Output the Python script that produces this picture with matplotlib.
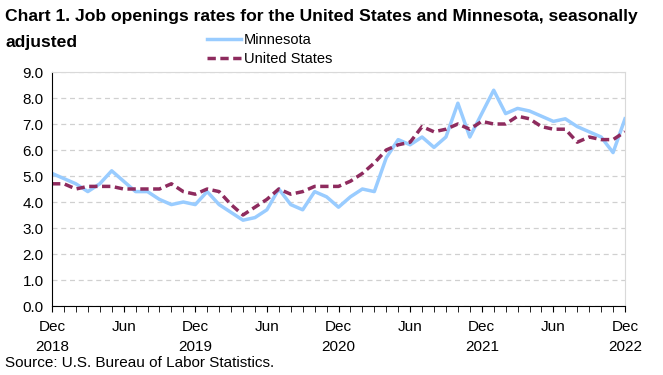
import matplotlib.pyplot as plt
import numpy as np

plt.rcParams['font.family'] = ['Liberation Sans Narrow', 'Liberation Sans', 'DejaVu Sans']

# monthly, Dec 2018 .. Dec 2022
minnesota = [5.1, 4.9, 4.7, 4.4, 4.7, 5.2, 4.8, 4.4, 4.4, 4.1, 3.9, 4.0, 3.9,
             4.4, 3.9, 3.6, 3.3, 3.4, 3.7, 4.5, 3.9, 3.7, 4.4, 4.2, 3.8,
             4.2, 4.5, 4.4, 5.7, 6.4, 6.2, 6.5, 6.1, 6.5, 7.8, 6.5, 7.4,
             8.3, 7.4, 7.6, 7.5, 7.3, 7.1, 7.2, 6.9, 6.7, 6.5, 5.9, 7.2]
united_states = [4.7, 4.7, 4.5, 4.6, 4.6, 4.6, 4.5, 4.5, 4.5, 4.5, 4.7, 4.4, 4.3,
                 4.5, 4.4, 3.9, 3.5, 3.8, 4.1, 4.5, 4.3, 4.4, 4.6, 4.6, 4.6,
                 4.8, 5.1, 5.5, 6.0, 6.2, 6.3, 6.9, 6.7, 6.8, 7.0, 6.8, 7.1,
                 7.0, 7.0, 7.3, 7.2, 6.9, 6.8, 6.8, 6.3, 6.5, 6.4, 6.4, 6.7]
tick_labels = ['Dec\n2018', 'Jun', 'Dec\n2019', 'Jun', 'Dec\n2020', 'Jun',
               'Dec\n2021', 'Jun', 'Dec\n2022']

x = np.arange(len(minnesota))

fig = plt.figure(figsize=(6.63, 3.75), dpi=100)
ax = fig.add_axes([52 / 663, 1 - 306 / 375, 573 / 663, 234 / 375])

ax.plot(x, minnesota, color='#99ccff', lw=2.5, label='Minnesota')
ax.plot(x, united_states, color='#8e2b5e', lw=2.5, ls=(0, (2.4, 1.3)), label='United States')

ax.set_xlim(0, 48)
ax.set_ylim(0, 9)
ax.set_yticks(np.arange(0, 9.1, 1))
ax.set_yticklabels([f'{v:.1f}' for v in np.arange(0, 9.1, 1)], fontsize=11)
ax.set_xticks(np.arange(0, 49, 6))
ax.set_xticklabels(tick_labels, fontsize=11, linespacing=1.6, va='top')
ax.set_xticks(x, minor=True)
ax.tick_params(axis='x', which='both', direction='out', length=4, color='black', pad=6)
ax.tick_params(axis='y', length=0, pad=6)
ax.grid(axis='y', color='#d0d0d0', ls=(0, (4, 3)), lw=0.9)
ax.set_axisbelow(True)

ax.spines['left'].set_color('black')
ax.spines['bottom'].set_color('black')
ax.spines['top'].set_color('#d9d9d9')
ax.spines['right'].set_color('#d9d9d9')

fig.text(5 / 663, 1 - 17 / 375, 'Chart 1. Job openings rates for the United States and Minnesota, seasonally',
         fontsize=12.6, fontweight='bold', va='center', ha='left')
fig.text(5 / 663, 1 - 42 / 375, 'adjusted', fontsize=12.6, fontweight='bold', va='center', ha='left')
fig.legend(loc='upper left', bbox_to_anchor=(207 / 663, 1 - 33 / 375), frameon=False,
           fontsize=10.5, handlelength=2.3, handletextpad=0.25, labelspacing=0.35,
           borderpad=0, borderaxespad=0)
fig.text(5 / 663, 1 - 363 / 375, 'Source: U.S. Bureau of Labor Statistics.', fontsize=11,
         va='center', ha='left')

fig.savefig('out.png', dpi=100)
